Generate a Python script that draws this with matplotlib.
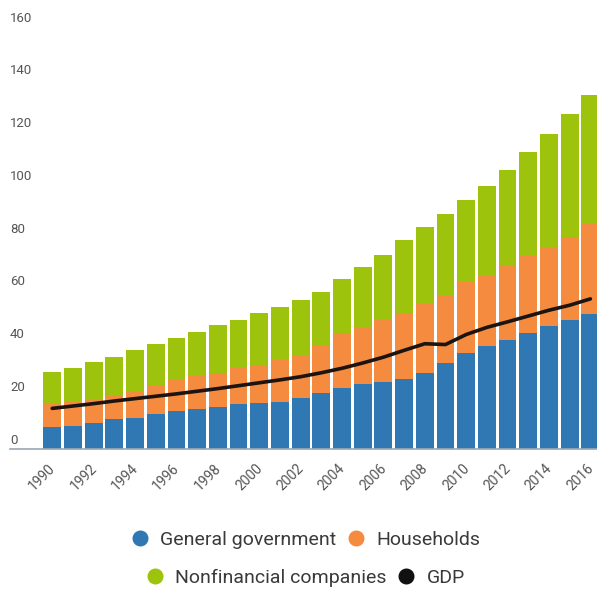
import matplotlib
matplotlib.use("Agg")
import matplotlib.pyplot as plt
import matplotlib.transforms as mtransforms
from matplotlib.lines import Line2D
import numpy as np

plt.rcParams["font.family"] = ["Roboto", "DejaVu Sans"]

# 数据
years = list(range(1990, 2017))
general_government = [8.4, 9.0, 10.1, 11.3, 12.0, 13.4, 14.4, 15.1, 16.2, 17.2, 17.4, 18.0, 19.4, 21.2,
                      23.1, 24.8, 25.5, 26.7, 28.9, 32.7, 36.4, 39.3, 41.5, 44.2, 46.7, 49.0, 51.2]
households = [8.8, 9.0, 8.9, 9.4, 10.0, 10.6, 12.2, 12.5, 12.8, 13.5, 14.6, 15.8, 16.5, 18.3,
              20.7, 21.7, 23.5, 25.1, 26.3, 25.8, 27.1, 26.5, 27.9, 29.4, 29.8, 31.5, 34.4]
nonfinancial = [12.0, 12.9, 14.2, 14.4, 15.6, 15.8, 15.7, 16.8, 18.0, 18.3, 19.5, 20.0, 20.7, 20.2,
                20.6, 22.7, 24.6, 27.4, 29.0, 30.5, 31.0, 33.9, 36.4, 38.9, 43.0, 46.4, 48.7]
gdp = [15.5, 16.4, 17.3, 18.3, 19.2, 20.1, 21.0, 22.0, 23.0, 24.1, 25.2, 26.3, 27.5, 29.0,
       30.7, 32.7, 34.9, 37.5, 40.0, 39.7, 43.5, 46.2, 48.3, 50.5, 52.7, 54.6, 57.0]
y_ticks = [0, 20, 40, 60, 80, 100, 120, 140, 160]

colors = {"gov": "#2f78b4", "hh": "#f58b3f", "nf": "#9dc30c", "gdp": "#1c1410"}
labels = ["General government", "Households", "Nonfinancial companies", "GDP"]

W, H = 597, 593
fig = plt.figure(figsize=(W / 100, H / 100), dpi=100)
ax = fig.add_axes([10 / W, 1 - 449.3 / H, 1 - 10 / W, (449.3 - 10) / H])

x = np.arange(len(years))
gov = np.array(general_government)
hh = np.array(households)
nf = np.array(nonfinancial)

ax.bar(x, gov, width=0.86, color=colors["gov"], linewidth=0)
ax.bar(x, hh, width=0.86, bottom=gov, color=colors["hh"], linewidth=0)
ax.bar(x, nf, width=0.86, bottom=gov + hh, color=colors["nf"], linewidth=0)
ax.plot(x, gdp, color=colors["gdp"], linewidth=2.6, solid_capstyle="round")

ax.set_xlim(-2.04, 26.32)
ax.set_ylim(0, (449.3 - 10) / 2.639)

for s in ["top", "right", "left"]:
    ax.spines[s].set_visible(False)
ax.spines["bottom"].set_color("#9aa7b4")
ax.spines["bottom"].set_linewidth(1.2)

# y轴标签 (位于刻度线上方)
ax.set_yticks([])
trans = mtransforms.offset_copy(ax.get_yaxis_transform(), fig=fig, y=9, units="dots")
for v in y_ticks:
    ax.text(0, v, str(v), transform=trans, ha="left", va="center", fontsize=9.5, color="#555555")

# x轴标签
ax.set_xticks(x)
ax.set_xticklabels([str(y) if y % 2 == 0 else "" for y in years], rotation=45,
                   ha="right", va="center", rotation_mode="anchor", fontsize=10, color="#555555")
ax.tick_params(axis="x", length=0, pad=12)
for lbl in ax.get_xticklabels():
    lbl.set_transform(lbl.get_transform() + mtransforms.Affine2D().translate(1, 0))

# 图例 (两行)
def handle(c):
    return Line2D([], [], marker="o", linestyle="", markersize=10.5, color=c)

leg1 = fig.legend([handle(colors["gov"]), handle(colors["hh"])], labels[:2], loc="center",
                  bbox_to_anchor=(302 / W, 1 - 540 / H), ncol=2, frameon=False, fontsize=14,
                  handletextpad=0.25, columnspacing=0.2, handlelength=1.6, labelcolor="#3a3a3a")
leg2 = fig.legend([handle(colors["nf"]), handle("#111111")], labels[2:], loc="center",
                  bbox_to_anchor=(302 / W, 1 - 578 / H), ncol=2, frameon=False, fontsize=14,
                  handletextpad=0.25, columnspacing=0.2, handlelength=1.6, labelcolor="#3a3a3a")

fig.savefig("out.png", dpi=100)
